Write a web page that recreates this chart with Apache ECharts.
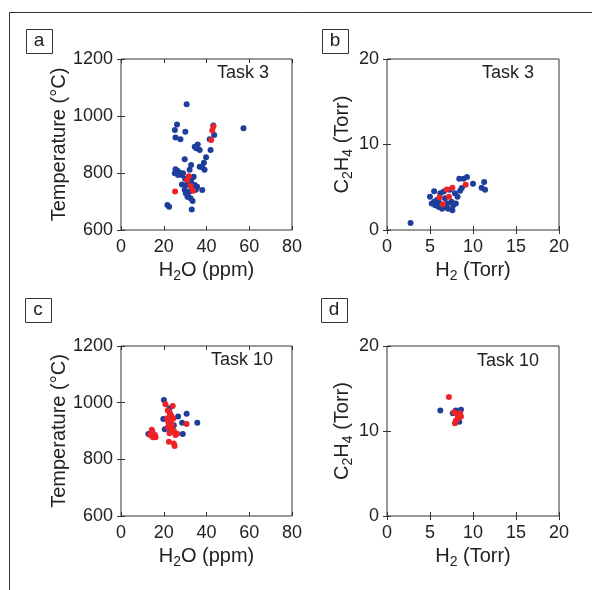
<!DOCTYPE html>
<html>
<head>
<meta charset="utf-8">
<script src="https://cdn.jsdelivr.net/npm/echarts@6/dist/echarts.min.js"></script>
<style>html,body{margin:0;padding:0;background:#fff;}#chart{width:592px;height:590px;}</style>
</head>
<body>
<div id="chart"></div>
<script>
// Panel a: Task 3, H2O (ppm) vs Temperature (°C)
const aBlue = [[30.7,1041],[26.2,970],[25.2,951],[30.1,945],[25.5,925],[27.8,918],[57.3,957],[43.2,967],[43.6,933],[41.5,918],[41.9,881],[35.9,900],[35.2,887],[36.8,881],[34.5,892],[39.8,855],[29.8,848],[38.8,836],[36.8,822],[38.0,820],[39.1,811],[32.8,828],[25.5,813],[26.4,808],[27.5,801],[28.3,793],[29.0,799],[26.7,793],[25.2,799],[32.1,811],[34.0,787],[32.9,764],[34.5,758],[35.6,752],[30.6,758],[29.8,741],[32.1,735],[30.3,729],[31.4,717],[32.5,711],[35.0,741],[38.0,740],[21.7,688],[22.5,682],[33.1,672],[33.5,702],[31.1,717],[31.5,770],[33.0,780],[30.0,780],[28.5,760]];
const aRed = [[43.2,963],[42.7,949],[42.2,916],[31.7,789],[30.9,775],[32.6,754],[33.7,738],[25.3,735]];
// Panel b: Task 3, H2 (Torr) vs C2H4 (Torr)
const bBlue = [[2.74,0.82],[5.0,3.9],[5.48,4.52],[5.2,3.1],[5.6,2.9],[6.0,2.7],[6.4,2.5],[6.8,2.7],[7.1,2.5],[7.6,2.3],[7.7,2.9],[6.2,4.3],[6.6,4.5],[7.3,4.7],[7.9,4.3],[8.2,3.9],[8.5,4.6],[8.7,4.9],[8.4,6.0],[8.9,6.0],[9.3,6.2],[10.0,5.4],[11.3,5.6],[11.0,4.95],[11.4,4.7],[5.8,3.5],[6.75,3.7],[7.5,3.3],[6.0,3.3],[7.0,3.1],[5.5,3.3],[8.0,3.1]];
const bRed = [[6.1,3.8],[6.5,3.0],[6.95,4.75],[7.2,3.9],[7.6,4.95],[9.15,5.3]];
// Panel c: Task 10, H2O (ppm) vs Temperature (°C)
const cBlue = [[20.1,1009],[19.8,942],[20.5,906],[12.8,889],[26.7,951],[30.7,961],[28.6,929],[35.7,929],[28.9,889],[22.7,980],[24.7,920],[23.9,899]];
const cRed = [[20.8,994],[24.2,988],[21.9,972],[22.9,962],[23.6,953],[21.6,945],[23.1,939],[24.4,943],[22.4,927],[23.9,921],[21.9,913],[23.1,906],[24.7,901],[22.7,892],[25.5,886],[30.7,925],[22.4,862],[24.7,856],[25.1,847],[14.4,904],[13.6,886],[14.9,878],[15.9,886],[16.2,878],[14.7,897],[26.3,890],[22.0,935],[23.0,960]];
// Panel d: Task 10, H2 (Torr) vs C2H4 (Torr)
const dBlue = [[6.2,12.4],[7.65,12.1],[8.0,12.4],[8.6,12.5],[8.4,11.1]];
const dRed = [[7.2,14.0],[7.8,12.2],[8.2,11.9],[8.5,12.1],[8.3,11.6],[8.0,11.2],[7.9,10.9],[8.6,11.7],[8.2,11.4]];

const panelLetters = ['a','b','c','d'];
const taskLabels = ['Task 3','Task 3','Task 10','Task 10'];
const tempTicks = {min:600, max:1200, interval:200};
const h2oTicks = {min:0, max:80, interval:20};
const h2Ticks = {min:0, max:20, interval:5};
const c2h4Ticks = {min:0, max:20, interval:10};

const FONT = '"Liberation Sans", Arial, Helvetica, sans-serif';
const TXT = '#222';
const LINE = '#333';
const BLUE = '#1d3f9b';
const RED = '#ee2326';

const grids = [
  {left:121, top:59, width:171, height:171},
  {left:387, top:59, width:172, height:171},
  {left:121, top:346, width:171, height:170},
  {left:387, top:346, width:172, height:170}
];

const rich = {
  n:{fontSize:20, color:TXT, fontFamily:FONT},
  s:{fontSize:14, color:TXT, fontFamily:FONT, padding:[12,0,0,0]}
};
const xNames = ['{n|H}{s|2}{n|O (ppm)}','{n|H}{s|2}{n| (Torr)}','{n|H}{s|2}{n|O (ppm)}','{n|H}{s|2}{n| (Torr)}'];
const yNames = ['{n|Temperature (°C)}','{n|C}{s|2}{n|H}{s|4}{n| (Torr)}','{n|Temperature (°C)}','{n|C}{s|2}{n|H}{s|4}{n| (Torr)}'];
const xScales = [h2oTicks,h2Ticks,h2oTicks,h2Ticks];
const yScales = [tempTicks,c2h4Ticks,tempTicks,c2h4Ticks];
const plain = v => String(v);

const xAxes = [], yAxes = [];
for (let i=0;i<4;i++){
  xAxes.push({type:'value', gridIndex:i, position:'bottom', min:xScales[i].min, max:xScales[i].max, interval:xScales[i].interval,
    name:xNames[i], nameLocation:'middle', nameGap:27, nameTextStyle:{rich:rich},
    axisLine:{show:false}, axisTick:{show:true, inside:true, length:4, lineStyle:{color:LINE}},
    axisLabel:{fontSize:18, color:TXT, fontFamily:FONT, margin:8, formatter:plain}, splitLine:{show:false}});
  yAxes.push({type:'value', gridIndex:i, position:'left', min:yScales[i].min, max:yScales[i].max, interval:yScales[i].interval,
    name:yNames[i], nameLocation:'middle', nameGap: (i%2===0)?51:29, nameTextStyle:{rich:rich},
    axisLine:{show:false}, axisTick:{show:true, inside:true, length:4, lineStyle:{color:LINE}},
    axisLabel:{fontSize:18, color:TXT, fontFamily:FONT, margin:8, formatter:plain}, splitLine:{show:false}});
}
// mirrored tick marks on top and right edges
for (let i=0;i<4;i++){
  xAxes.push({type:'value', gridIndex:i, position:'top', min:xScales[i].min, max:xScales[i].max, interval:xScales[i].interval,
    axisLine:{show:false}, axisTick:{show:true, inside:true, length:4, lineStyle:{color:LINE}}, axisLabel:{show:false}, splitLine:{show:false}});
  yAxes.push({type:'value', gridIndex:i, position:'right', min:yScales[i].min, max:yScales[i].max, interval:yScales[i].interval,
    axisLine:{show:false}, axisTick:{show:true, inside:true, length:4, lineStyle:{color:LINE}}, axisLabel:{show:false}, splitLine:{show:false}});
}

const sets = [[aBlue,aRed],[bBlue,bRed],[cBlue,cRed],[dBlue,dRed]];
const series = [];
sets.forEach((s,i)=>{
  series.push({type:'scatter', xAxisIndex:i, yAxisIndex:i, data:s[0], symbolSize:6, itemStyle:{color:BLUE, opacity:1}, silent:true});
  series.push({type:'scatter', xAxisIndex:i, yAxisIndex:i, data:s[1], symbolSize:6, itemStyle:{color:RED, opacity:1}, silent:true});
});

const letterPos = [[26,29],[322,29],[25,298],[321,298]];
const taskPos = [[269,73],[534,73],[273,360],[539,361]];
const graphic = [
  {type:'rect', shape:{x:9.5, y:12.5, width:700, height:700}, style:{fill:'none', stroke:LINE, lineWidth:1}, silent:true}
];
for (let i=0;i<4;i++){
  graphic.push({type:'rect', shape:{x:letterPos[i][0]+0.5, y:letterPos[i][1]+0.5, width:26, height:24}, style:{fill:'#fff', stroke:LINE, lineWidth:1}});
  graphic.push({type:'text', x:letterPos[i][0]+13, y:letterPos[i][1]+12, style:{text:panelLetters[i], font:'19px '+FONT, fill:TXT, textAlign:'center', textVerticalAlign:'middle'}});
  graphic.push({type:'text', x:taskPos[i][0], y:taskPos[i][1], style:{text:taskLabels[i], font:'18px '+FONT, fill:TXT, textAlign:'right', textVerticalAlign:'middle'}});
}

const chart = echarts.init(document.getElementById('chart'), null, {renderer:'canvas'});
chart.setOption({
  animation:false,
  backgroundColor:'#fff',
  grid: grids.map(g=>Object.assign({show:true, borderColor:LINE, borderWidth:1, backgroundColor:'transparent'}, g)),
  xAxis:xAxes, yAxis:yAxes, series:series, graphic:graphic
});
</script>
</body>
</html>
